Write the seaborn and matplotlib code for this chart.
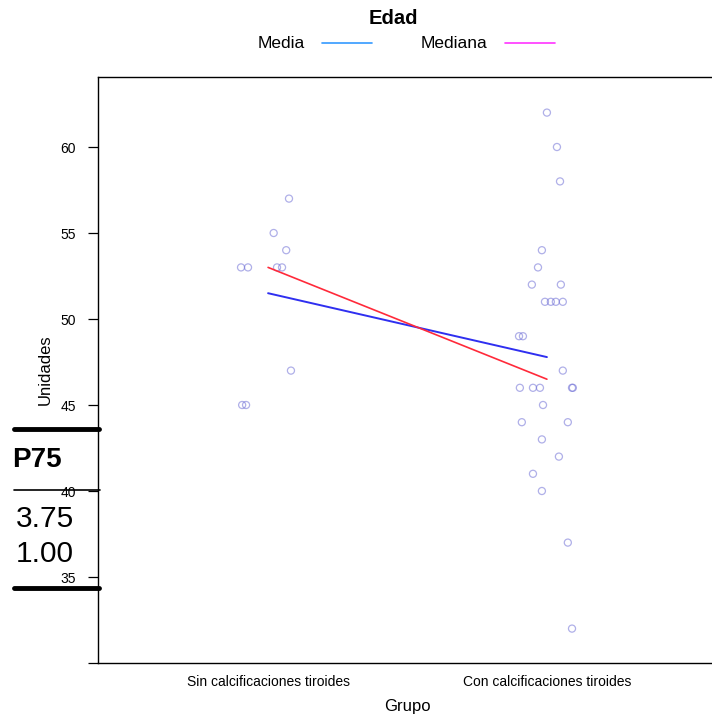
import matplotlib
matplotlib.use("Agg")
import matplotlib.pyplot as plt
from matplotlib.lines import Line2D
import numpy as np
import pandas as pd
import seaborn as sns

sns.set_theme(style="white")
plt.rcParams['font.family'] = ['Liberation Sans', 'DejaVu Sans']
plt.rcParams['text.color'] = 'black'
plt.rcParams['axes.labelcolor'] = 'black'
plt.rcParams['xtick.color'] = 'black'
plt.rcParams['ytick.color'] = 'black'

groups = ["Sin calcificaciones tiroides", "Con calcificaciones tiroides"]

# valores (Edad por grupo) y desplazamiento horizontal (jitter)
sin_vals = [57, 55, 54, 53, 53, 53, 53, 47, 45, 45]
sin_jit = [0.075, 0.02, 0.065, -0.097, -0.072, 0.032, 0.05, 0.082, -0.093, -0.079]
con_vals = [62, 60, 58, 54, 53, 52, 52, 51, 51, 51, 51, 49, 49, 47,
            46, 46, 46, 46, 46, 45, 44, 44, 43, 42, 41, 40, 37, 32]
con_jit = [0.0, 0.036, 0.047, -0.018, -0.032, -0.054, 0.05, -0.007, 0.014, 0.032, 0.057,
           -0.1, -0.086, 0.057, -0.097, -0.05, -0.025, 0.09, 0.093, -0.014, -0.09, 0.075,
           -0.018, 0.043, -0.05, -0.018, 0.075, 0.09]

y_ticks = [30, 35, 40, 45, 50, 55, 60]

df = pd.DataFrame({
    "grupo": [1] * len(sin_vals) + [2] * len(con_vals),
    "edad": sin_vals + con_vals,
    "jit": sin_jit + con_jit,
})
df["xj"] = df["grupo"] + df["jit"]

fig = plt.figure(figsize=(7.12, 7.17), dpi=100)
W, H = 712, 717
ax = fig.add_axes([98 / W, 1 - 663 / H, 619 / W, 586 / H])

sns.scatterplot(data=df, x="xj", y="edad", ax=ax, s=26, marker="o",
                facecolors="none", edgecolor="#6f6fd6", linewidth=0.9, alpha=0.55)
sns.lineplot(data=df, x="grupo", y="edad", estimator="mean", errorbar=None,
             ax=ax, color="#2f2ff0", linewidth=1.4)
sns.lineplot(data=df, x="grupo", y="edad", estimator="median", errorbar=None,
             ax=ax, color="#ff2a3a", linewidth=1.2)

ax.set_xlim(0.39, 2.61)
ax.set_ylim(30, 64.07)
ax.set_xticks([1, 2])
ax.set_xticklabels(groups, fontsize=10)
ax.set_yticks(y_ticks)
ax.set_yticklabels(["" if t == 30 else str(t) for t in y_ticks], fontsize=10)
ax.tick_params(axis="y", length=7, width=0.9, color="black", left=True, pad=9)
ax.tick_params(axis="x", length=0, pad=9)
for s in ax.spines.values():
    s.set_color("black")
    s.set_linewidth(1.0)
ax.set_xlabel("Grupo", fontsize=12, va="center")
ax.set_ylabel("Unidades", fontsize=12, va="center")
ax.xaxis.set_label_coords((407 - 98) / 619, (663 - 707) / 586)
ax.yaxis.set_label_coords((45 - 98) / 619, (663 - 370) / 586)

# leyenda superior
fig.text(393 / W, 1 - 18 / H, "Edad", ha="center", va="center", fontsize=14.5, fontweight="bold")
fig.text(281 / W, 1 - 44 / H, "Media", ha="center", va="center", fontsize=12.5)
fig.add_artist(Line2D([322 / W, 372 / W], [1 - 43 / H, 1 - 43 / H], color="#3399ff", linewidth=1.2))
fig.text(454 / W, 1 - 44 / H, "Mediana", ha="center", va="center", fontsize=12.5)
fig.add_artist(Line2D([505 / W, 555 / W], [1 - 43 / H, 1 - 43 / H], color="#ff33ff", linewidth=1.2))

# fragmento de tabla superpuesto a la izquierda
fig.add_artist(Line2D([14 / W, 99 / W], [1 - 429 / H] * 2, color="black", linewidth=3.5))
fig.add_artist(Line2D([14 / W, 100 / W], [1 - 490 / H] * 2, color="black", linewidth=1.2))
fig.add_artist(Line2D([14 / W, 99 / W], [1 - 588 / H] * 2, color="black", linewidth=3.5))
fig.text(62 / W, 1 - 460 / H, "P75", ha="right", va="center", fontsize=20, fontweight="bold")
fig.text(74 / W, 1 - 519 / H, "3.75", ha="right", va="center", fontsize=21.5)
fig.text(74 / W, 1 - 554 / H, "1.00", ha="right", va="center", fontsize=21.5)

fig.savefig("out.png", dpi=100)
